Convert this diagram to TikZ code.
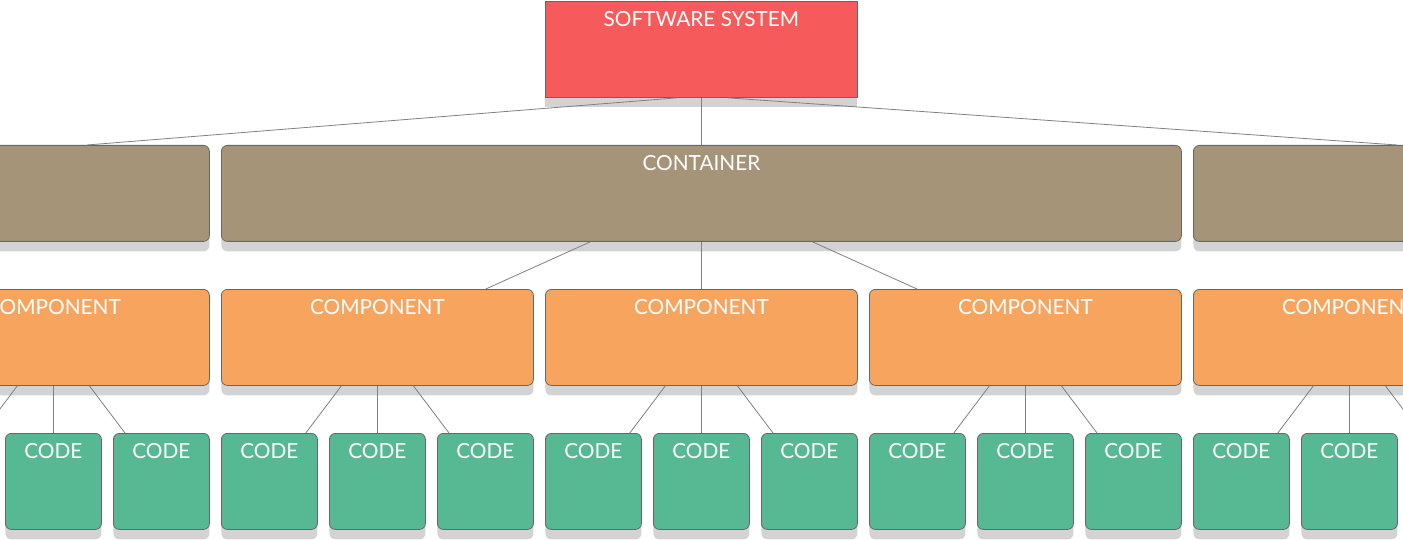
\documentclass[tikz,border=0pt]{standalone}
\usepackage{fontspec}
\setmainfont{Lato}
\usetikzlibrary{shadows}

\definecolor{sysred}{HTML}{F65A5B}
\definecolor{conttan}{HTML}{A69479}
\definecolor{comporange}{HTML}{F7A55E}
\definecolor{codegreen}{HTML}{57B894}
\definecolor{edgegray}{HTML}{666666}
\definecolor{linkgray}{HTML}{808080}
\definecolor{shadowgray}{HTML}{D3D3D3}

\tikzset{
  box/.style={draw=edgegray, line width=0.8pt, minimum height=96pt, inner sep=0pt,
    anchor=north west,
    drop shadow={shadow xshift=0pt, shadow yshift=-10pt, fill=shadowgray, opacity=1}},
  boxtext/.style={text=white, font=\fontsize{20.8}{24}\selectfont, anchor=north,
    inner sep=0pt, yshift=-10pt},
  sysbox/.style={box, fill=sysred, minimum width=312pt},
  contbox/.style={box, fill=conttan, rounded corners=6pt, minimum width=960pt},
  compbox/.style={box, fill=comporange, rounded corners=6pt, minimum width=312pt},
  codebox/.style={box, fill=codegreen, rounded corners=6pt, minimum width=96pt},
  link/.style={draw=linkgray, line width=0.8pt}
}

\begin{document}
\begin{tikzpicture}[x=1pt, y=-1pt]
  \useasboundingbox (0,0) rectangle (1403,540);

  % Software system
  \node[sysbox, label={[boxtext]north:SOFTWARE SYSTEM}] (sys) at (545,1) {};

  % Containers
  \node[contbox] (contL) at (-751,145) {};
  \node[contbox, label={[boxtext]north:CONTAINER}] (cont) at (221,145) {};
  \node[contbox] (contR) at (1193,145) {};

  % Components
  \node[compbox, label={[boxtext]north:COMPONENT}] (comp1) at (-103,289) {};
  \node[compbox, label={[boxtext]north:COMPONENT}] (comp2) at (221,289) {};
  \node[compbox, label={[boxtext]north:COMPONENT}] (comp3) at (545,289) {};
  \node[compbox, label={[boxtext]north:COMPONENT}] (comp4) at (869,289) {};
  \node[compbox, label={[boxtext]north:COMPONENT}] (comp5) at (1193,289) {};

  % Code (code0 and code14 lie past the edges)
  \node[codebox] (code0) at (-103,433) {};
  \node[codebox, label={[boxtext]north:CODE}] (code1) at (5,433) {};
  \node[codebox, label={[boxtext]north:CODE}] (code2) at (113,433) {};
  \node[codebox, label={[boxtext]north:CODE}] (code3) at (221,433) {};
  \node[codebox, label={[boxtext]north:CODE}] (code4) at (329,433) {};
  \node[codebox, label={[boxtext]north:CODE}] (code5) at (437,433) {};
  \node[codebox, label={[boxtext]north:CODE}] (code6) at (545,433) {};
  \node[codebox, label={[boxtext]north:CODE}] (code7) at (653,433) {};
  \node[codebox, label={[boxtext]north:CODE}] (code8) at (761,433) {};
  \node[codebox, label={[boxtext]north:CODE}] (code9) at (869,433) {};
  \node[codebox, label={[boxtext]north:CODE}] (code10) at (977,433) {};
  \node[codebox, label={[boxtext]north:CODE}] (code11) at (1085,433) {};
  \node[codebox, label={[boxtext]north:CODE}] (code12) at (1193,433) {};
  \node[codebox, label={[boxtext]north:CODE}] (code13) at (1301,433) {};
  \node[codebox] (code14) at (1409,433) {};

  % Software system -> containers
  \draw[link] ([xshift=-24pt]sys.south) -- ([xshift=-123pt]contL.north east);
  \draw[link] (sys.south) -- (cont.north);
  \draw[link] ([xshift=26pt]sys.south) -- ([xshift=204pt]contR.north west);

  % Container -> components
  \draw[link] ([xshift=-111pt]cont.south) -- ([xshift=-48pt]comp2.north east);
  \draw[link] (cont.south) -- (comp3.north);
  \draw[link] ([xshift=111pt]cont.south) -- ([xshift=48pt]comp4.north west);

  % Components -> code
  \draw[link] ([xshift=-36pt]comp1.south) -- ([xshift=-12pt]code0.north east);
  \draw[link] (comp1.south) -- (code1.north);
  \draw[link] ([xshift=36pt]comp1.south) -- ([xshift=12pt]code2.north west);
  \draw[link] ([xshift=-36pt]comp2.south) -- ([xshift=-12pt]code3.north east);
  \draw[link] (comp2.south) -- (code4.north);
  \draw[link] ([xshift=36pt]comp2.south) -- ([xshift=12pt]code5.north west);
  \draw[link] ([xshift=-36pt]comp3.south) -- ([xshift=-12pt]code6.north east);
  \draw[link] (comp3.south) -- (code7.north);
  \draw[link] ([xshift=36pt]comp3.south) -- ([xshift=12pt]code8.north west);
  \draw[link] ([xshift=-36pt]comp4.south) -- ([xshift=-12pt]code9.north east);
  \draw[link] (comp4.south) -- (code10.north);
  \draw[link] ([xshift=36pt]comp4.south) -- ([xshift=12pt]code11.north west);
  \draw[link] ([xshift=-36pt]comp5.south) -- ([xshift=-12pt]code12.north east);
  \draw[link] (comp5.south) -- (code13.north);
  \draw[link] ([xshift=36pt]comp5.south) -- ([xshift=12pt]code14.north west);
\end{tikzpicture}
\end{document}
